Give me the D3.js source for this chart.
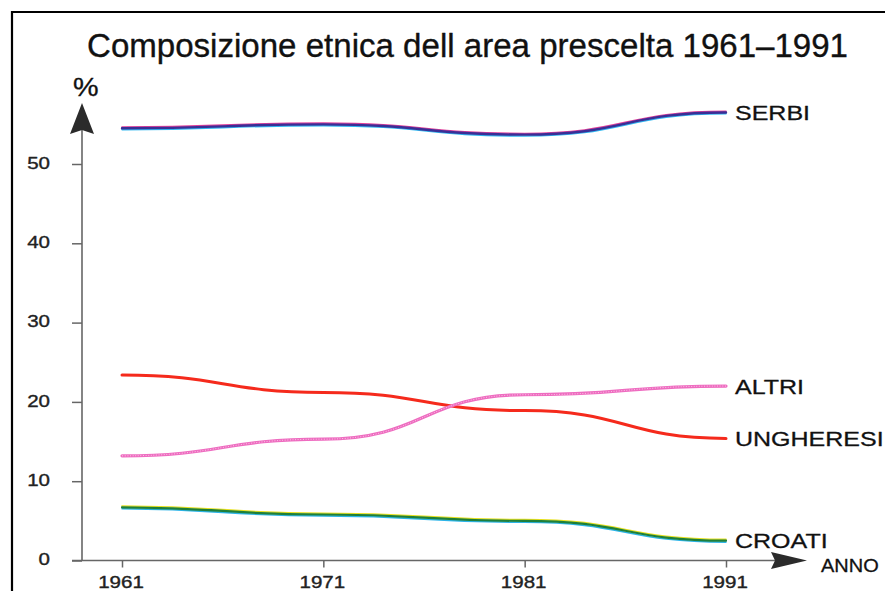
<!DOCTYPE html>
<html>
<head>
<meta charset="utf-8">
<script src="https://cdn.jsdelivr.net/npm/d3@7"></script>
<style>
  html, body { margin: 0; padding: 0; background: #fff; }
  svg { display: block; font-family: "Liberation Sans", Arial, sans-serif; }
  svg text { stroke-linejoin: round; }
</style>
</head>
<body>
<svg id="chart" width="885" height="591"></svg>
<script>
// ---- data ----
const years = [1961, 1971, 1981, 1991];
const serbi = [54.5, 55.0, 53.7, 56.5];
const ungheresi = [23.4, 21.2, 18.9, 15.4];
const altri = [13.2, 15.3, 20.9, 22.0];
const croati = [6.7, 5.8, 5.0, 2.5];
const yTickValues = [0, 10, 20, 30, 40, 50];
const seriesNames = ["SERBI", "ALTRI", "UNGHERESI", "CROATI"];
const titleText = "Composizione etnica dell area prescelta 1961\u20131991";

const svg = d3.select("#chart");
const x = d3.scaleLinear().domain([1961, 1991]).range([122, 726]);
const y = d3.scaleLinear().domain([0, 50]).range([560.5, 164]);

const SX = 1.3; // horizontal stretch of scanned lettering

// frame
svg.append("path").attr("d", "M12,591 L12,12 L885,12")
  .attr("fill", "none").attr("stroke", "#000").attr("stroke-width", 2.2);

// title
svg.append("text").attr("x", 87).attr("y", 57)
  .style("font-size", "32.5px").attr("fill", "#111")
  .attr("stroke", "#111").attr("stroke-width", 0.35)
  .attr("textLength", 761).attr("lengthAdjust", "spacingAndGlyphs")
  .text(titleText);

// y axis
const yAxisG = svg.append("g").attr("transform", "translate(82,0)")
  .call(d3.axisLeft(y).tickValues(yTickValues).tickSize(10).tickPadding(22));
yAxisG.attr("font-size", null).attr("font-family", null);
yAxisG.select(".domain").remove();
yAxisG.selectAll(".tick line").attr("stroke", "#666").attr("stroke-width", 1.5);
yAxisG.selectAll(".tick text")
  .attr("x", -32 / SX).attr("dy", "0.27em")
  .attr("transform", `scale(${SX},1)`)
  .style("font-size", "15.8px").style("font-family", "Liberation Sans, Arial, sans-serif")
  .attr("fill", "#222").attr("stroke", "#222").attr("stroke-width", 0.35);

svg.append("line").attr("x1", 82).attr("x2", 82).attr("y1", y(0)).attr("y2", 128)
  .attr("stroke", "#666").attr("stroke-width", 1.6);
svg.append("path").attr("d", "M82,103 L94,134 L82,130 L70,134 Z").attr("fill", "#2b2b2b");
svg.append("text").attr("transform", "translate(73,96) scale(1.15,1)")
  .style("font-size", "25px").attr("fill", "#111").attr("stroke", "#111").attr("stroke-width", 0.3)
  .text("%");

// x axis
const xAxisG = svg.append("g").attr("transform", `translate(0,${y(0)})`)
  .call(d3.axisBottom(x).tickValues(years).tickSize(7).tickPadding(9).tickFormat(d3.format("d")));
xAxisG.attr("font-size", null).attr("font-family", null);
xAxisG.select(".domain").remove();
xAxisG.selectAll(".tick line").attr("stroke", "#666").attr("stroke-width", 1.5);
xAxisG.selectAll(".tick text")
  .attr("x", -1.5 / SX)
  .attr("transform", `scale(${SX},1)`)
  .style("font-size", "15.8px").style("font-family", "Liberation Sans, Arial, sans-serif")
  .attr("fill", "#222").attr("stroke", "#222").attr("stroke-width", 0.35);

svg.append("line").attr("x1", 72).attr("x2", 776).attr("y1", y(0)).attr("y2", y(0))
  .attr("stroke", "#666").attr("stroke-width", 1.6);
svg.append("path").attr("d", "M807,560.5 L771,552 L775,560.5 L771,569 Z").attr("fill", "#2b2b2b");
svg.append("text").attr("transform", "translate(821,572) scale(1.08,1)")
  .style("font-size", "18.5px").attr("fill", "#111").attr("stroke", "#111").attr("stroke-width", 0.3)
  .text("ANNO");

// lines
const line = (vals, dy) => d3.line().curve(d3.curveBumpX)
  .x((d, i) => x(years[i])).y(d => y(d) + dy)(vals);

function draw(vals, dy, color, w, extra) {
  const p = svg.append("path").attr("d", line(vals, dy)).attr("fill", "none")
    .attr("stroke", color).attr("stroke-width", w).attr("stroke-linecap", "round");
  if (extra) extra(p);
  return p;
}

// SERBI: pink top edge, cyan bottom edge, blue-violet core
draw(serbi, -1.2, "#e0409a", 1.6);
draw(serbi, 1.3, "#30b8f0", 1.6);
draw(serbi, 0, "#3a2f96", 2.4);

// UNGHERESI
draw(ungheresi, 0, "#f52a1c", 3);

// ALTRI: textured pink
draw(altri, 0, "#ee6cc0", 3.2);
draw(altri, 0, "#fbc4e6", 1, p => p.attr("stroke-dasharray", "1,1.6").attr("stroke-linecap", "butt"));

// CROATI: yellow top, cyan bottom, green core
draw(croati, -1.3, "#e6e020", 1.6);
draw(croati, 1.4, "#2cb4e8", 1.6);
draw(croati, 0, "#1e7f3a", 2.2);

// series labels
const labelVals = [serbi[3], altri[3], ungheresi[3], croati[3]];
svg.append("g").selectAll("text").data(seriesNames).join("text")
  .attr("transform", (d, i) => `translate(735,${y(labelVals[i]) + 7.5}) scale(1.22,1)`)
  .style("font-size", "20.5px").attr("fill", "#111")
  .attr("stroke", "#111").attr("stroke-width", 0.3)
  .text(d => d);
</script>
</body>
</html>
